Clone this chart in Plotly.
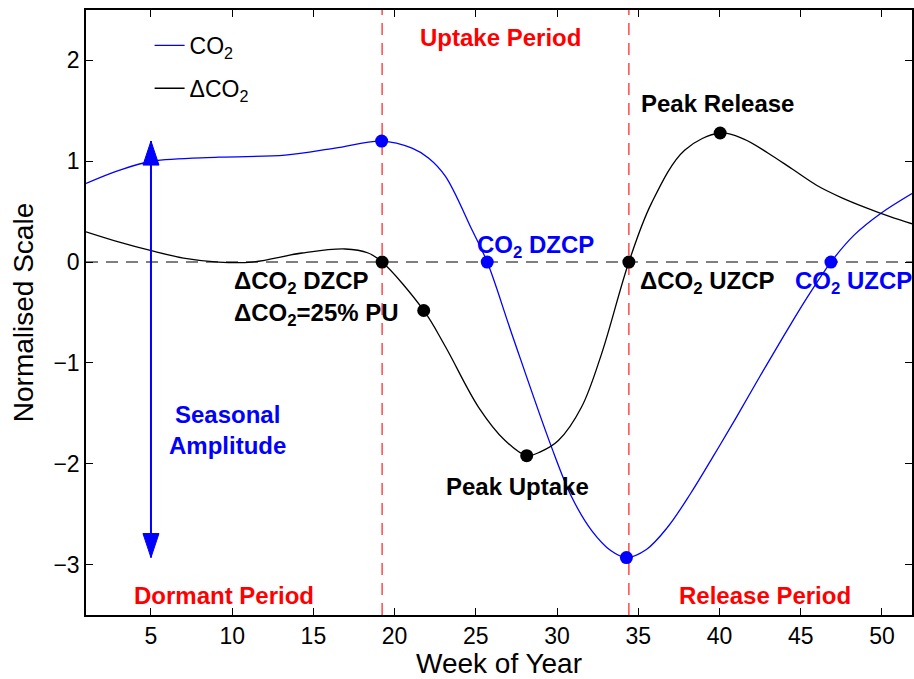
import plotly.graph_objects as go

# ---------------- data ----------------
week_co2 = [1, 3.03, 5.08, 9.17, 13.26, 16.33, 19.2, 21.07, 22.1, 23.13, 24.76, 25.7,
            27.21, 29.67, 30.9, 32.12, 33.3, 34.27, 35.5, 36.8, 38.2, 39.6,
            41.0, 42.5, 44.0, 45.4, 46.86, 48.3, 49.9, 51.85]
co2 = [0.78, 0.91, 1.0, 1.04, 1.06, 1.13, 1.2, 1.13, 1.03, 0.85, 0.32, 0.0,
       -0.71, -1.84, -2.33, -2.66, -2.86, -2.93, -2.85, -2.63, -2.30, -1.93,
       -1.55, -1.13, -0.72, -0.35, 0.0, 0.27, 0.48, 0.68]

week_dco2 = [1, 3, 5.08, 7, 9.17, 11.2, 14.3, 16.95, 18.37, 19.23, 21.79, 23.13,
             25.17, 26.8, 28.13, 29.0, 30.08, 31.5, 32.74, 34.42, 35.8, 37.85, 40.04,
             41.5, 43.0, 44.5, 46.0, 47.5, 49.0, 50.5, 51.85]
dco2 = [0.3, 0.2, 0.11, 0.04, 0.0, 0.0, 0.09, 0.13, 0.09, 0.0, -0.48, -0.84,
        -1.44, -1.77, -1.92, -1.88, -1.77, -1.44, -0.91, 0.0, 0.58, 1.11, 1.28,
        1.22, 1.08, 0.92, 0.76, 0.64, 0.54, 0.45, 0.38]

co2_pts_week = [19.2, 25.7, 34.27, 46.86]
co2_pts_val = [1.2, 0.0, -2.93, 0.0]
dco2_pts_week = [19.23, 21.79, 28.13, 34.42, 40.04]
dco2_pts_val = [0.0, -0.48, -1.92, 0.0, 1.28]

x_ticks = [5, 10, 15, 20, 25, 30, 35, 40, 45, 50]
y_ticks = [-3, -2, -1, 0, 1, 2]
amp_week = 5

FONT = "Liberation Sans, Arial, Helvetica, sans-serif"
BLUE = "#0000ff"
RED = "#ff0000"

fig = go.Figure()

fig.add_trace(go.Scatter(x=week_co2, y=co2, mode="lines", name="CO<sub>2</sub>",
                         line=dict(color=BLUE, width=1.3, shape="spline"),
                         legendgroup="a"))
fig.add_trace(go.Scatter(x=week_dco2, y=dco2, mode="lines", name="ΔCO<sub>2</sub>",
                         line=dict(color="black", width=1.3, shape="spline"),
                         legendgroup="b"))
fig.add_trace(go.Scatter(x=co2_pts_week, y=co2_pts_val, mode="markers", showlegend=False,
                         marker=dict(color=BLUE, size=13)))
fig.add_trace(go.Scatter(x=dco2_pts_week, y=dco2_pts_val, mode="markers", showlegend=False,
                         marker=dict(color="black", size=13)))

# period boundaries (dCO2 zero crossings)
dzcp = dco2_pts_week[0]
uzcp = dco2_pts_week[3]
for xv in (dzcp, uzcp):
    fig.add_shape(type="line", x0=xv, x1=xv, y0=0, y1=1, xref="x", yref="paper",
                  line=dict(color="rgba(255,40,40,0.85)", width=1.5, dash="12px,8px"),
                  layer="below")
fig.add_shape(type="line", x0=0, x1=1, y0=0, y1=0, xref="paper", yref="y",
              line=dict(color="#555555", width=1.5, dash="12px,8px"), layer="below")

# seasonal amplitude arrow
top = max(co2_pts_val)
bot = min(co2_pts_val)
fig.add_shape(type="line", x0=amp_week, x1=amp_week, y0=top, y1=bot,
              line=dict(color=BLUE, width=2))
fig.add_shape(type="path", xref="x", yref="y", xsizemode="pixel", ysizemode="pixel",
              xanchor=amp_week, yanchor=top, path="M0,0 L-8,-24 L8,-24 Z",
              fillcolor=BLUE, line=dict(color=BLUE, width=1))
fig.add_shape(type="path", xref="x", yref="y", xsizemode="pixel", ysizemode="pixel",
              xanchor=amp_week, yanchor=bot, path="M0,0 L-8,24 L8,24 Z",
              fillcolor=BLUE, line=dict(color=BLUE, width=1))


def label(text, x, y, color, xanchor="center", yanchor="middle"):
    fig.add_annotation(text="<b>" + text + "</b>", x=x, y=y, xref="x", yref="y",
                       showarrow=False, xanchor=xanchor, yanchor=yanchor,
                       font=dict(family=FONT, size=24, color=color))


label("Uptake Period", 26.5, 2.23, RED)
label("Dormant Period", 9.5, -3.31, RED)
label("Release Period", 42.8, -3.31, RED)
label("Peak Release", 39.9, 1.57, "black")
label("Peak Uptake", 27.55, -2.23, "black")
label("CO<sub>2</sub> DZCP", 28.7, 0.15, BLUE)
label("ΔCO<sub>2</sub> DZCP", 10.0, -0.2, "black", xanchor="left")
label("ΔCO<sub>2</sub>=25% PU", 10.0, -0.52, "black", xanchor="left")
label("ΔCO<sub>2</sub> UZCP", 35.0, -0.2, "black", xanchor="left")
label("CO<sub>2</sub> UZCP", 44.5, -0.2, BLUE, xanchor="left")
label("Seasonal<br>Amplitude", 6.0, -1.67, BLUE, xanchor="left")

axis_common = dict(showline=True, linecolor="black", linewidth=1.5, mirror="ticks",
                   ticks="inside", ticklen=7, tickwidth=1, tickcolor="black",
                   showgrid=False, zeroline=False,
                   tickfont=dict(family=FONT, size=23, color="black"))

fig.update_xaxes(range=[1, 51.85], tickvals=x_ticks,
                 title=dict(text="Week of Year", font=dict(family=FONT, size=28, color="black"),
                            standoff=6),
                 **axis_common)
fig.update_yaxes(range=[-3.5, 2.5], tickvals=y_ticks,
                 title=dict(text="Normalised Scale", font=dict(family=FONT, size=28, color="black"),
                            standoff=12),
                 **axis_common)

fig.update_layout(
    width=914, height=679,
    margin=dict(l=86, r=0, t=10, b=64),
    plot_bgcolor="white", paper_bgcolor="white",
    font=dict(family=FONT, color="black"),
    legend=dict(x=0.077, y=0.977, xanchor="left", yanchor="top",
                bgcolor="rgba(0,0,0,0)", borderwidth=0, tracegroupgap=10,
                font=dict(family=FONT, size=23, color="black")),
)

fig.write_html("out.html", config={"displayModeBar": False},
               post_script="document.body.style.margin='0';document.body.style.overflow='hidden';")
